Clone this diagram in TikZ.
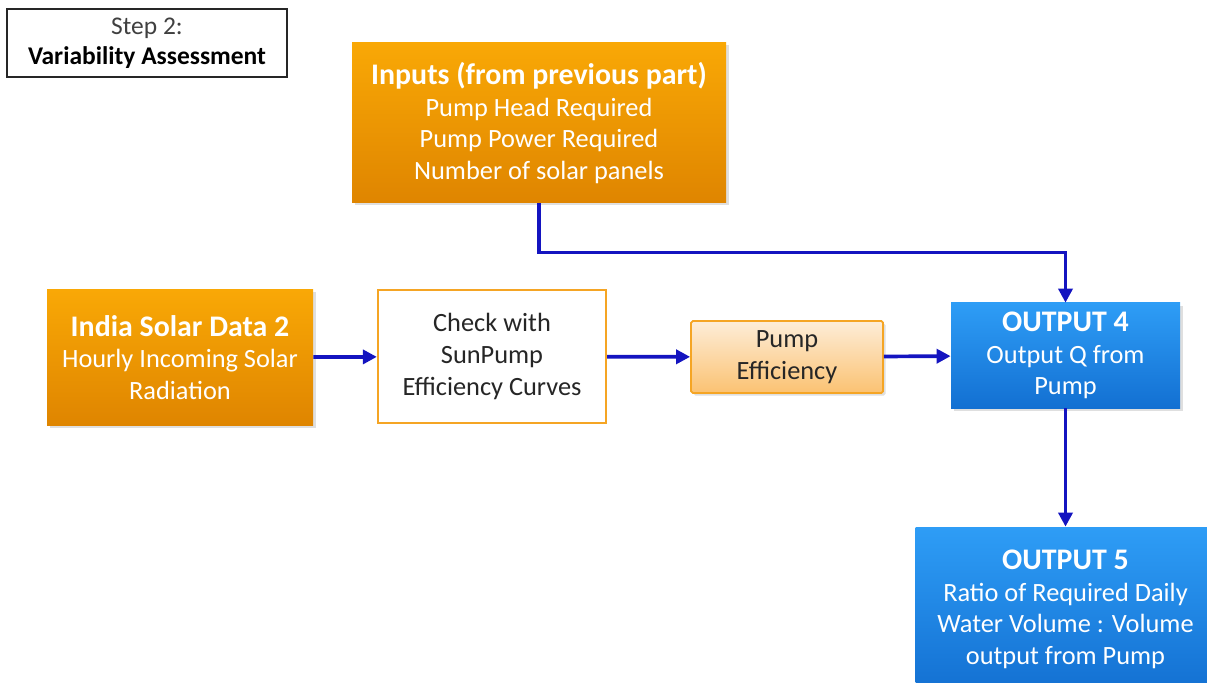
\documentclass[tikz,border=0pt]{standalone}
\usepackage{fontspec}
\setmainfont{Carlito}
\usetikzlibrary{arrows.meta,shadows}
\definecolor{orangetop}{HTML}{F9A806}
\definecolor{orangebot}{HTML}{DF8500}
\definecolor{paletop}{HTML}{FDEDD8}
\definecolor{palebot}{HTML}{FBC272}
\definecolor{orangeline}{HTML}{F5A524}
\definecolor{bluetop}{HTML}{2E9DF6}
\definecolor{bluebot}{HTML}{1370D2}
\definecolor{flowblue}{HTML}{1414C0}
\definecolor{steptext}{HTML}{404040}
\newcommand{\boxhead}[1]{{\fontsize{17}{18}\selectfont\bfseries #1}}
\begin{document}
\begin{tikzpicture}[
    orangebox/.style={top color=orangetop, bottom color=orangebot, text=white,
        align=center, inner sep=0pt, drop shadow={opacity=0.25, shadow xshift=0.05, shadow yshift=-0.05},
        font=\fontsize{15}{18}\selectfont},
    bluebox/.style={top color=bluetop, bottom color=bluebot, text=white,
        align=center, inner sep=0pt, drop shadow={opacity=0.25, shadow xshift=0.05, shadow yshift=-0.05},
        font=\fontsize{15}{18}\selectfont},
    checkbox/.style={draw=orangeline, line width=1.3pt, fill=white, align=center,
        inner sep=0pt, text=black!85, font=\fontsize{15}{18}\selectfont},
    palebox/.style={draw=orangeline, line width=1pt, top color=paletop, bottom color=palebot,
        align=center, inner sep=0pt, text=black!85, rounded corners=1pt,
        drop shadow={opacity=0.25, shadow xshift=0.05, shadow yshift=-0.05},
        font=\fontsize{15}{18}\selectfont},
    flow/.style={-{Triangle[length=8pt,width=8pt]}, draw=flowblue, line width=2.1pt}
]
    \useasboundingbox (0,0) rectangle (24.14,-13.66);
    \clip (0,0) rectangle (24.14,-13.66);

    % Step label
    \node[draw=black!85, line width=1.4pt, minimum width=5.6cm, minimum height=1.36cm,
        align=center, inner sep=0pt, font=\fontsize{14.5}{17}\selectfont]
        (step) at (2.94,-0.86) {\textcolor{steptext}{Step 2:}\\\textbf{Variability Assessment}};

    % Inputs
    \node[orangebox, minimum width=7.48cm, minimum height=3.2cm] (inputs) at (10.78,-2.46)
        {\boxhead{Inputs (from previous part)}\\Pump Head Required\\Pump Power Required\\Number of solar panels};

    % Middle row
    \node[orangebox, minimum width=5.32cm, minimum height=2.7cm] (india) at (3.6,-7.15)
        {\boxhead{India Solar Data 2}\\Hourly Incoming Solar\\Radiation};
    \node[checkbox, minimum width=4.56cm, minimum height=2.66cm] (check) at (9.84,-7.13)
        {Check with\\SunPump\\Efficiency Curves};
    \node[palebox, minimum width=3.84cm, minimum height=1.44cm] (pumpeff) at (15.74,-7.14)
        {Pump\\Efficiency};
    \node[bluebox, minimum width=4.58cm, minimum height=2.1cm] (out4) at (21.31,-7.11)
        {\boxhead{OUTPUT 4}\\Output Q from\\Pump};

    % Output 5
    \node[bluebox, minimum width=6cm, minimum height=3.3cm] (out5) at (21.31,-12.19)
        {\boxhead{OUTPUT 5}\\Ratio of Required Daily\\Water Volume : Volume\\output from Pump};

    % Arrows
    \draw[flow] (inputs.south) -- ++(0,-0.98) -| (out4.north);
    \draw[flow] (india) -- (check);
    \draw[flow] (check) -- (pumpeff);
    \draw[flow] (pumpeff) -- (out4);
    \draw[flow] (out4) -- (out5);
\end{tikzpicture}
\end{document}
